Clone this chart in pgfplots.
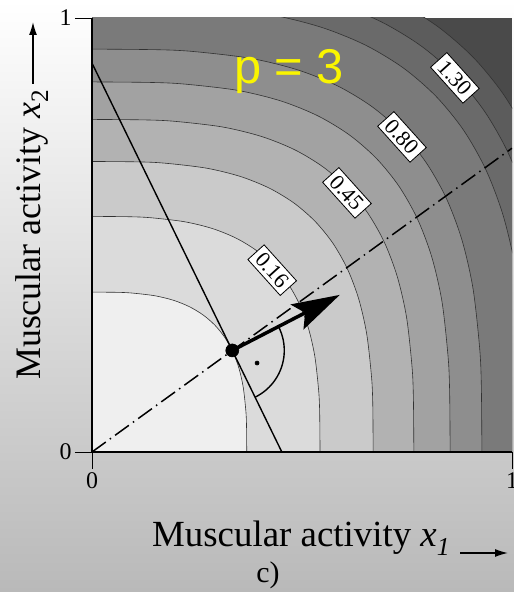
\documentclass[border=0pt]{standalone}
\usepackage{pgfplots}
\pgfplotsset{compat=1.18}
\usetikzlibrary{arrows.meta}
\usepackage{fontspec}
\setmainfont{Liberation Serif}
\setsansfont{Liberation Sans}
\definecolor{r0}{RGB}{239,239,239}
\definecolor{r1}{RGB}{219,219,219}
\definecolor{r2}{RGB}{202,202,202}
\definecolor{r3}{RGB}{178,178,178}
\definecolor{r4}{RGB}{162,162,162}
\definecolor{r5}{RGB}{142,142,142}
\definecolor{r6}{RGB}{122,122,122}
\definecolor{r7}{RGB}{106,106,106}
\definecolor{r8}{RGB}{92,92,92}
\definecolor{r9}{RGB}{74,74,74}
\definecolor{cl}{RGB}{50,50,50}
\definecolor{bgb}{RGB}{185,185,185}
\definecolor{pyel}{RGB}{250,245,0}
\begin{document}
\begin{tikzpicture}
\useasboundingbox (0,0) rectangle (514bp,592bp);
\shade[top color=white, bottom color=bgb] (0,0) rectangle (514bp,592bp);
\begin{axis}[
  at={(92bp,140bp)}, anchor=south west,
  scale only axis, width=420bp, height=434bp,
  xmin=0, xmax=1, ymin=0, ymax=1,
  axis lines*=left, axis on top,
  axis background/.style={fill=r9},
  xtick={0,1}, ytick={0,1},
  tick align=outside, major tick length=17bp,
  tick style={black, line width=0.9bp},
  axis line style={black, line width=1.1bp},
  tick label style={font=\fontsize{24}{24}\selectfont},
  /pgf/number format/assume math mode=true,
  every axis plot/.append style={line width=0.6bp},
]
\addplot[smooth, fill=r8, draw=cl] coordinates {(1.1447,0) (1.1431,0.1858) (1.1382,0.2945) (1.1186,0.4649) (1.0859,0.6034) (1.0401,0.7212) (0.9810,0.8222) (0.9085,0.9085) (0.8222,0.9810) (0.7212,1.0401) (0.6034,1.0859) (0.4649,1.1186) (0.2945,1.1382) (0.1858,1.1431) (0,1.1447)} \closedcycle;
\addplot[smooth, fill=r7, draw=cl] coordinates {(1.0914,0) (1.0899,0.1771) (1.0852,0.2808) (1.0665,0.4432) (1.0353,0.5753) (0.9917,0.6876) (0.9353,0.7840) (0.8662,0.8662) (0.7840,0.9353) (0.6876,0.9917) (0.5753,1.0353) (0.4432,1.0665) (0.2808,1.0852) (0.1771,1.0899) (0,1.0914)} \closedcycle;
\addplot[smooth, fill=r6, draw=cl] coordinates {(1.0323,0) (1.0309,0.1675) (1.0264,0.2656) (1.0088,0.4192) (0.9792,0.5441) (0.9379,0.6503) (0.8847,0.7415) (0.8193,0.8193) (0.7415,0.8847) (0.6503,0.9379) (0.5441,0.9792) (0.4192,1.0088) (0.2656,1.0264) (0.1675,1.0309) (0,1.0323)} \closedcycle;
\addplot[smooth, fill=r5, draw=cl] coordinates {(0.9283,0) (0.9270,0.1507) (0.9230,0.2389) (0.9071,0.3770) (0.8806,0.4893) (0.8435,0.5848) (0.7956,0.6668) (0.7368,0.7368) (0.6668,0.7956) (0.5848,0.8435) (0.4893,0.8806) (0.3770,0.9071) (0.2389,0.9230) (0.1507,0.9270) (0,0.9283)} \closedcycle;
\addplot[smooth, fill=r4, draw=cl] coordinates {(0.8527,0) (0.8515,0.1384) (0.8478,0.2194) (0.8333,0.3463) (0.8089,0.4495) (0.7748,0.5372) (0.7308,0.6125) (0.6768,0.6768) (0.6125,0.7308) (0.5372,0.7748) (0.4495,0.8089) (0.3463,0.8333) (0.2194,0.8478) (0.1384,0.8515) (0,0.8527)} \closedcycle;
\addplot[smooth, fill=r3, draw=cl] coordinates {(0.7663,0) (0.7652,0.1244) (0.7619,0.1972) (0.7488,0.3112) (0.7269,0.4039) (0.6963,0.4828) (0.6567,0.5504) (0.6082,0.6082) (0.5504,0.6567) (0.4828,0.6963) (0.4039,0.7269) (0.3112,0.7488) (0.1972,0.7619) (0.1244,0.7652) (0,0.7663)} \closedcycle;
\addplot[smooth, fill=r2, draw=cl] coordinates {(0.6694,0) (0.6685,0.1086) (0.6656,0.1722) (0.6541,0.2718) (0.6350,0.3528) (0.6082,0.4217) (0.5737,0.4808) (0.5313,0.5313) (0.4808,0.5737) (0.4217,0.6082) (0.3528,0.6350) (0.2718,0.6541) (0.1722,0.6656) (0.1086,0.6685) (0,0.6694)} \closedcycle;
\addplot[smooth, fill=r1, draw=cl] coordinates {(0.5429,0) (0.5421,0.0881) (0.5398,0.1397) (0.5305,0.2205) (0.5150,0.2862) (0.4933,0.3420) (0.4653,0.3900) (0.4309,0.4309) (0.3900,0.4653) (0.3420,0.4933) (0.2862,0.5150) (0.2205,0.5305) (0.1397,0.5398) (0.0881,0.5421) (0,0.5429)} \closedcycle;
\addplot[smooth, fill=r0, draw=cl] coordinates {(0.3684,0) (0.3679,0.0598) (0.3663,0.0948) (0.3600,0.1496) (0.3495,0.1942) (0.3347,0.2321) (0.3157,0.2646) (0.2924,0.2924) (0.2646,0.3157) (0.2321,0.3347) (0.1942,0.3495) (0.1496,0.3600) (0.0948,0.3663) (0.0598,0.3679) (0,0.3684)} \closedcycle;
% contour labels
\begin{scope}[every node/.style={fill=white, draw=black, line width=0.8bp, rotate=-48, inner xsep=5bp, inner ysep=3.5bp, font=\fontsize{22}{22}\selectfont}]
\node at (axis cs:0.429,0.419) {0.16};
\node at (axis cs:0.607,0.597) {0.45};
\node at (axis cs:0.738,0.726) {0.80};
\node at (axis cs:0.864,0.862) {1.30};
\end{scope}
% dash-dot ray
\addplot[black, line width=1.5bp, dash pattern=on 17bp off 5bp on 1.5bp off 5bp] coordinates {(0,0) (1,0.70)};
% tangent line
\addplot[black, line width=1.4bp] coordinates {(0,0.896) (0.452,0)};
% normal arrow
\addplot[black, line width=3.5bp, -{Stealth[length=48bp, width=28bp, inset=9bp]}] coordinates {(0.334,0.234) (0.590,0.362)};
\draw[black, line width=1.4bp] (axis cs:0.334,0.234) ++(-64:52bp) arc[start angle=-64, end angle=27, radius=52bp];
\addplot[only marks, mark=*, mark size=6.5bp, black] coordinates {(0.334,0.234)};
\addplot[only marks, mark=*, mark size=2bp, black] coordinates {(0.393,0.205)};
\end{axis}
\node[text=pyel, font=\fontsize{49}{49}\selectfont\sffamily] at (289bp,520bp) {p = 3};
\node[anchor=base west, inner sep=0pt, font=\fontsize{37}{37}\selectfont] at (152bp,45bp) {Muscular activity \textit{x}\textsubscript{\textit{1}}};
\draw[black, line width=1.3bp, -{Latex[length=13bp, width=8bp]}] (460bp,39bp) -- (508bp,39bp);
\node[anchor=base, inner sep=0pt, font=\fontsize{30}{30}\selectfont] at (268bp,10bp) {c)};
\node[anchor=base west, rotate=90, inner sep=0pt, font=\fontsize{36}{36}\selectfont] at (40bp,212bp) {Muscular activity \textit{x}\textsubscript{2}};
\draw[black, line width=1.3bp, -{Latex[length=13bp, width=8bp]}] (33bp,508bp) -- (33bp,570bp);
\end{tikzpicture}
\end{document}
